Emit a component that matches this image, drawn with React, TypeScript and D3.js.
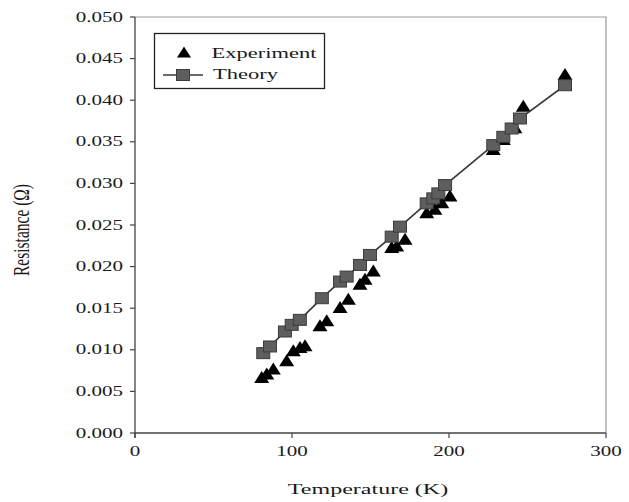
import React from "react";
import * as d3 from "d3";

const theoryT = [81.7, 86, 95.5, 99.8, 105, 119, 130.6, 134.8, 143.3, 149.7, 163.5, 168.8, 185.8, 190, 193.2, 197.5, 228.2, 234.6, 239.9, 245.2, 273.9];
const theoryR = [0.0096, 0.0104, 0.0122, 0.013, 0.0136, 0.0162, 0.0182, 0.0188, 0.0202, 0.0214, 0.0236, 0.0248, 0.0276, 0.0282, 0.0288, 0.0298, 0.0346, 0.0356, 0.0366, 0.0378, 0.0418];

const expT = [80.7, 83.9, 88.1, 96.6, 100.8, 105.1, 108.3, 117.8, 122.1, 130.6, 135.9, 143.3, 146.5, 151.8, 163.5, 166.7, 172, 185.8, 191, 195.4, 200.6, 228.2, 234.6, 242, 247.3, 273.9];
const expR = [0.0066, 0.007, 0.0076, 0.0086, 0.0098, 0.0102, 0.0104, 0.0128, 0.0134, 0.015, 0.016, 0.0178, 0.0184, 0.0194, 0.0222, 0.0224, 0.0232, 0.0264, 0.0268, 0.0276, 0.0284, 0.034, 0.0352, 0.0366, 0.0392, 0.043];

const xTicks = [0, 100, 200, 300];
const yTicks = [0, 0.005, 0.01, 0.015, 0.02, 0.025, 0.03, 0.035, 0.04, 0.045, 0.05];

const seriesNames = ["Experiment", "Theory"];
const xLabel = "Temperature (K)";
const yLabel = "Resistance (Ω)";

const W = 629, H = 502;
const L = 135, R = 606, T = 17, B = 433;
const FONT = "'Liberation Serif', 'Times New Roman', serif";

function SText({ x, y, sx = 1.45, size = 14.5, anchor = "start", rotate = 0, children }: any) {
  return (
    <text
      transform={`translate(${x},${y}) scale(${sx},1)${rotate ? ` rotate(${rotate})` : ""}`}
      fontFamily={FONT}
      fontSize={size}
      textAnchor={anchor}
      fill="#1a1a1a"
    >
      {children}
    </text>
  );
}

function triPath(cx: number, cy: number, w = 15, h = 12) {
  return `M${cx},${cy - h * 0.6}L${cx + w / 2},${cy + h * 0.4}L${cx - w / 2},${cy + h * 0.4}Z`;
}

export default function App() {
  const x = d3.scaleLinear().domain([0, 300]).range([L, R]);
  const y = d3.scaleLinear().domain([0, 0.05]).range([B, T]);
  const theory = theoryT.map((t, i) => [t, theoryR[i]] as [number, number]);
  const exp = expT.map((t, i) => [t, expR[i]] as [number, number]);
  const line = d3.line<[number, number]>().x((d) => x(d[0])).y((d) => y(d[1]));
  const sqW = 13, sqH = 11;

  return (
    <svg width={W} height={H} style={{ position: "absolute", left: 0, top: 0, background: "#fff" }}>
      <rect x={0} y={0} width={W} height={H} fill="#fff" />
      {/* frame */}
      <path d={`M${L},${T}H${R}V${B}`} fill="none" stroke="#999" strokeWidth={1.2} />
      <line x1={L} x2={R} y1={B} y2={B} stroke="#444" strokeWidth={1.3} />
      <line x1={L} x2={L} y1={T} y2={B + 5} stroke="#444" strokeWidth={1.3} />
      {/* y ticks */}
      {yTicks.map((v) => (
        <g key={"y" + v}>
          <line x1={L - 5} x2={L} y1={y(v)} y2={y(v)} stroke="#444" strokeWidth={1.2} />
          <SText x={123} y={y(v) + 4.5} anchor="end">{d3.format(".3f")(v)}</SText>
        </g>
      ))}
      {/* x ticks */}
      {xTicks.map((v) => (
        <g key={"x" + v}>
          <line x1={x(v)} x2={x(v)} y1={B} y2={B + 5} stroke="#444" strokeWidth={1.2} />
          <SText x={x(v)} y={456} anchor="middle">{String(v)}</SText>
        </g>
      ))}
      <SText x={368} y={494} anchor="middle" size={15.5} sx={1.55}>{xLabel}</SText>
      <SText x={29} y={230} anchor="middle" size={15.5} sx={1.5} rotate={-90}>{yLabel}</SText>

      {/* data */}
      {exp.map((d, i) => (
        <path key={"e" + i} d={triPath(x(d[0]), y(d[1]))} fill="#000" />
      ))}
      <path d={line(theory) || ""} fill="none" stroke="#3a3a3a" strokeWidth={1.7} />
      {theory.map((d, i) => (
        <rect
          key={"t" + i}
          x={x(d[0]) - sqW / 2}
          y={y(d[1]) - sqH / 2}
          width={sqW}
          height={sqH}
          fill="#5e5e5e"
          stroke="#3c3c3c"
          strokeWidth={1}
        />
      ))}

      {/* legend */}
      <rect x={154.5} y={33.5} width={170} height={55} fill="#fff" stroke="#222" strokeWidth={1.3} />
      <path d={triPath(184, 53, 14, 11)} fill="#000" />
      <SText x={211.5} y={58} size={15} sx={1.5}>{seriesNames[0]}</SText>
      <line x1={163} x2={203} y1={75} y2={75} stroke="#3a3a3a" strokeWidth={1.7} />
      <rect x={183 - sqW / 2} y={75 - sqH / 2} width={sqW} height={sqH} fill="#5e5e5e" stroke="#3c3c3c" strokeWidth={1} />
      <SText x={213} y={79} size={15} sx={1.5}>{seriesNames[1]}</SText>
    </svg>
  );
}
